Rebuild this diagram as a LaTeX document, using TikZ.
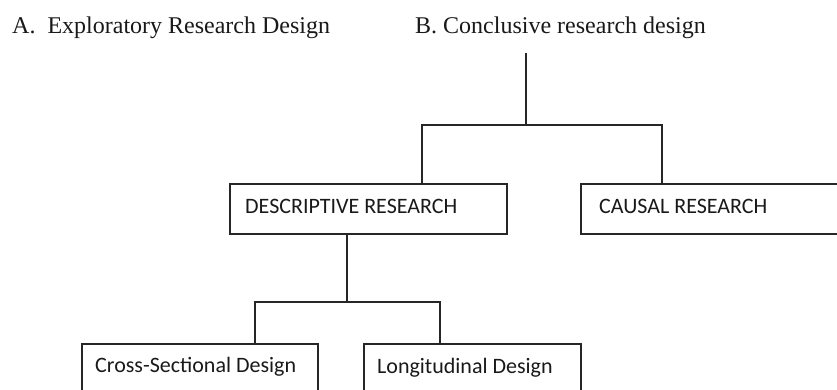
\documentclass[tikz,border=0pt]{standalone}
\usepackage{fontspec}
\setmainfont{Liberation Serif}
\newfontfamily\boxfont{Carlito}
\usetikzlibrary{calc}
\tikzset{
  box/.style={draw=black!85, line width=1.8pt, rectangle, inner sep=0pt, anchor=north west},
  boxtxt/.style={inner sep=0pt, anchor=base west, font=\boxfont\fontsize{22}{25}\selectfont, text=black!90},
  headtxt/.style={inner sep=0pt, anchor=base west, font=\fontsize{24}{27}\selectfont, text=black!90},
  conn/.style={draw=black!85, line width=1.8pt}
}
\begin{document}
\begin{tikzpicture}[x=1pt,y=-1pt]
\useasboundingbox (0,0) rectangle (837,389);
\clip (0,0) rectangle (837,389);
% headings
\node[headtxt] (headA) at (12,33) {A.\ \ Exploratory Research Design};
\node[headtxt] (headB) at (415,33) {B. Conclusive research design};
% boxes
\node[box, minimum width=277pt, minimum height=50pt] (desc) at (229,183) {};
\node[box, minimum width=265pt, minimum height=50pt] (causal) at (580,183) {};
\node[box, minimum width=236pt, minimum height=70pt] (cross) at (81,343) {};
\node[box, minimum width=217pt, minimum height=70pt] (long) at (363,343) {};
% box texts
\node[boxtxt] (desct) at ($(desc.north west)+(16,30)$) {DESCRIPTIVE RESEARCH};
\node[boxtxt] (causalt) at ($(causal.north west)+(19,30)$) {CAUSAL RESEARCH};
\node[boxtxt] (crosst) at ($(cross.north west)+(14,29)$) {Cross-Sectional Design};
\node[boxtxt] (longt) at ($(long.north west)+(14,30)$) {Longitudinal Design};
% connectors
\coordinate (top) at (526,53);
\coordinate (j1) at (526,125);
\draw[conn] (top) -- (j1);
\draw[conn] (j1) -| ([xshift=193pt]desc.north west);
\draw[conn] (j1) -| ([xshift=82pt]causal.north west);
\coordinate (j2) at (347,302);
\draw[conn] ([xshift=118pt]desc.south west) -- (j2);
\draw[conn] (j2) -| ([xshift=174pt]cross.north west);
\draw[conn] (j2) -| ([xshift=77pt]long.north west);
\end{tikzpicture}
\end{document}
